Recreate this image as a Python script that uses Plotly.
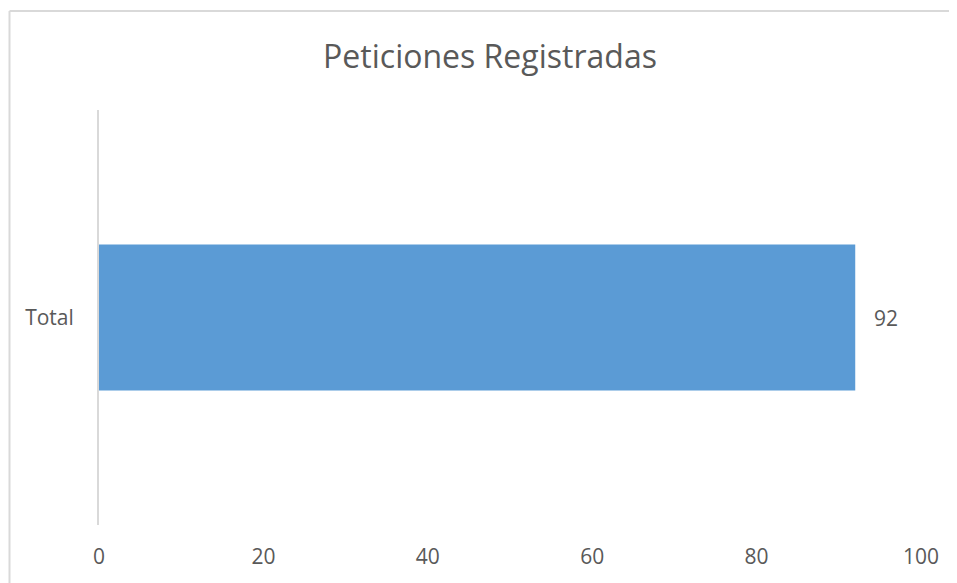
import plotly.graph_objects as go

categories = ["Total"]
values = [92]
title_text = "Peticiones Registradas"
tick_vals = [0, 20, 40, 60, 80, 100]

# page body has an 8px margin; size the figure to the remaining viewport
OFF = 8
W, H = 957 - OFF, 583 - OFF
ML, MR, MT, MB = 99 - OFF, 36, 110 - OFF, 58
pw = W - ML - MR
ph = H - MT - MB

def px_x(x):
    return (x - OFF - ML) / pw

def px_y(y):
    return (H - MB - (y - OFF)) / ph

FONT = "Open Sans, sans-serif"
GREY = "#595959"

fig = go.Figure()
fig.add_trace(go.Bar(
    x=values, y=categories, orientation="h",
    marker=dict(color="#5B9BD5", line=dict(width=0)),
    width=0.352, hoverinfo="x+y",
))

for c, v in zip(categories, values):
    fig.add_annotation(x=v, y=c, text=str(v), xanchor="left", yanchor="middle",
                       xshift=17, showarrow=False,
                       font=dict(family=FONT, size=21, color=GREY))

# chart border (top and left visible)
fig.add_shape(type="line", xref="paper", yref="paper",
              x0=px_x(9.5), x1=px_x(970), y0=px_y(11), y1=px_y(11),
              line=dict(color="#d9d9d9", width=2))
fig.add_shape(type="line", xref="paper", yref="paper",
              x0=px_x(9.5), x1=px_x(9.5), y0=px_y(11), y1=px_y(600),
              line=dict(color="#d9d9d9", width=2))

fig.update_layout(
    width=W, height=H,
    margin=dict(l=ML, r=MR, t=MT, b=MB, pad=0),
    paper_bgcolor="white", plot_bgcolor="white",
    showlegend=False,
    title=dict(text=title_text, x=(490 - OFF) / W, xanchor="center", xref="container",
               y=1 - (57 - OFF) / H, yanchor="middle", yref="container",
               font=dict(family=FONT, size=32, color=GREY)),
    xaxis=dict(range=[0, 100], tickvals=tick_vals, showgrid=False, zeroline=False,
               showline=False, ticks="", ticklabelstandoff=17,
               tickfont=dict(family=FONT, size=21, color=GREY)),
    yaxis=dict(showgrid=False, zeroline=False, showline=True, linecolor="#d9d9d9",
               linewidth=2, ticks="", ticklabelstandoff=19, range=[-0.5, 0.5],
               tickfont=dict(family=FONT, size=21, color=GREY)),
)

fig.write_html("out.html")
